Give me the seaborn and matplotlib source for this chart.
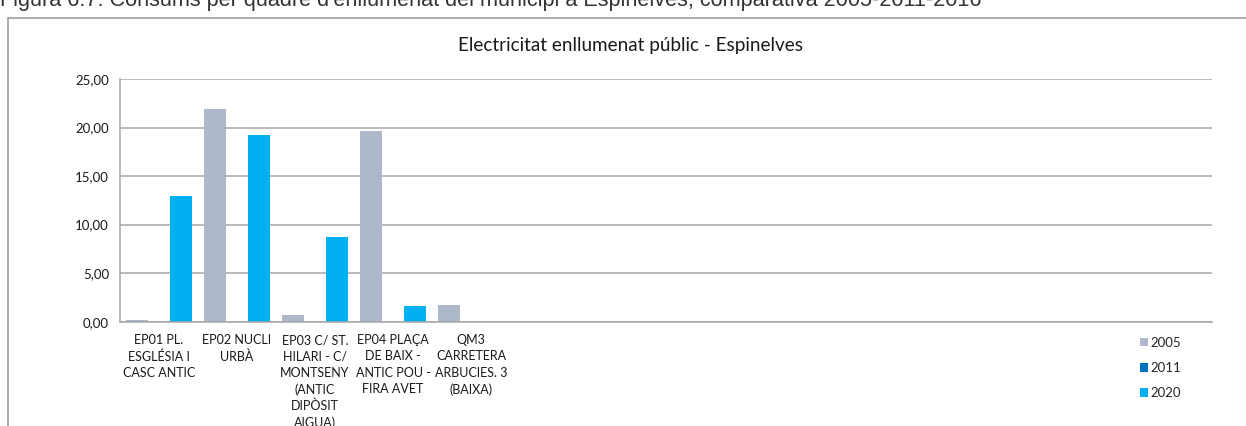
import matplotlib
matplotlib.use("Agg")
import matplotlib.pyplot as plt
import seaborn as sns
import pandas as pd
from matplotlib.ticker import FuncFormatter, MultipleLocator
from matplotlib.lines import Line2D

categories = ["EP01 PL.\nESGLÉSIA I\nCASC ANTIC",
              "EP02 NUCLI\nURBÀ",
              "EP03 C/ ST.\nHILARI - C/\nMONTSENY\n(ANTIC\nDIPÒSIT\nAIGUA)",
              "EP04 PLAÇA\nDE BAIX -\nANTIC POU -\nFIRA AVET",
              "QM3\nCARRETERA\nARBUCIES. 3\n(BAIXA)"]
empty_slots = 9
years = ["2005", "2011", "2020"]
values_2005 = [0.15, 21.9, 0.69, 19.65, 1.69]
values_2011 = [0.0, 0.0, 0.0, 0.0, 0.0]
values_2020 = [12.95, 19.2, 8.75, 1.58, 0.0]
colors = ["#ADB9CA", "#0070C0", "#00B0F0"]
title = "Electricitat enllumenat públic - Espinelves"
caption = "Figura 6.7: Consums per quadre d'enllumenat del municipi a Espinelves, comparativa 2005-2011-2016"

rows = []
for yr, vals in zip(years, [values_2005, values_2011, values_2020]):
    for c, v in zip(categories, vals):
        rows.append({"cat": c, "year": yr, "val": v})
df = pd.DataFrame(rows)
blank_keys = [" " * (i + 1) for i in range(empty_slots)]
order = categories + blank_keys

sns.set_theme(style="white")
plt.rcParams["font.family"] = ["Lato", "DejaVu Sans"]

fig = plt.figure(figsize=(12.46, 4.26), dpi=100)
ax = fig.add_axes([120 / 1246, 1 - 321.7 / 426, 1092 / 1246, (321.7 - 79) / 426])

sns.barplot(data=df, x="cat", y="val", hue="year", order=order, hue_order=years,
            palette=colors, width=0.846, gap=0, ax=ax, errorbar=None,
            saturation=1, edgecolor="none", linewidth=0, legend=True)

ax.set_ylim(0, 25)
ax.set_xlim(-0.5, len(order) - 0.5)
ax.yaxis.set_major_locator(MultipleLocator(5))
ax.yaxis.set_major_formatter(FuncFormatter(lambda v, p: f"{v:.2f}".replace(".", ",")))
ax.grid(axis="y", color="#A6A6A6", linewidth=1.1)
ax.set_axisbelow(True)
for s in ["top", "right"]:
    ax.spines[s].set_visible(False)
ax.spines["left"].set_color("#A6A6A6")
ax.spines["bottom"].set_color("#A6A6A6")
ax.spines["left"].set_linewidth(1.1)
ax.spines["bottom"].set_linewidth(1.1)
ax.set_xlabel("")
ax.set_ylabel("")
ax.set_xticks(range(len(order)))
ax.set_xticklabels(categories + [""] * empty_slots, fontsize=9, color="#1a1a1a",
                   linespacing=1.42, va="top")
ax.tick_params(axis="x", length=0, pad=9)
ax.tick_params(axis="y", length=0, pad=8, labelsize=9.5, labelcolor="#1a1a1a")

handles, labels = ax.get_legend_handles_labels()
ax.legend(handles, labels, frameon=False, loc="upper left",
          bbox_to_anchor=(1133 / 1246, 1 - 330 / 426), bbox_transform=fig.transFigure,
          handlelength=0.65, handleheight=0.65, handletextpad=0.2, labelspacing=1.0,
          fontsize=9.5, borderpad=0)

fig.text(630 / 1246, 1 - 45 / 426, title, ha="center", va="center", fontsize=13.6, color="#1a1a1a")
fig.text(0.0, 1 - 6 / 426, caption, ha="left", va="baseline", fontsize=15.6,
         color="#333333", family=["Liberation Sans", "DejaVu Sans"])

fig.add_artist(Line2D([8 / 1246, 1.0], [1 - 18 / 426, 1 - 18 / 426], transform=fig.transFigure,
                      color="#A0A0A0", linewidth=1.2))
fig.add_artist(Line2D([8 / 1246, 8 / 1246], [1 - 18 / 426, 0.0], transform=fig.transFigure,
                      color="#A0A0A0", linewidth=1.2))

fig.savefig("out.png", dpi=100)
